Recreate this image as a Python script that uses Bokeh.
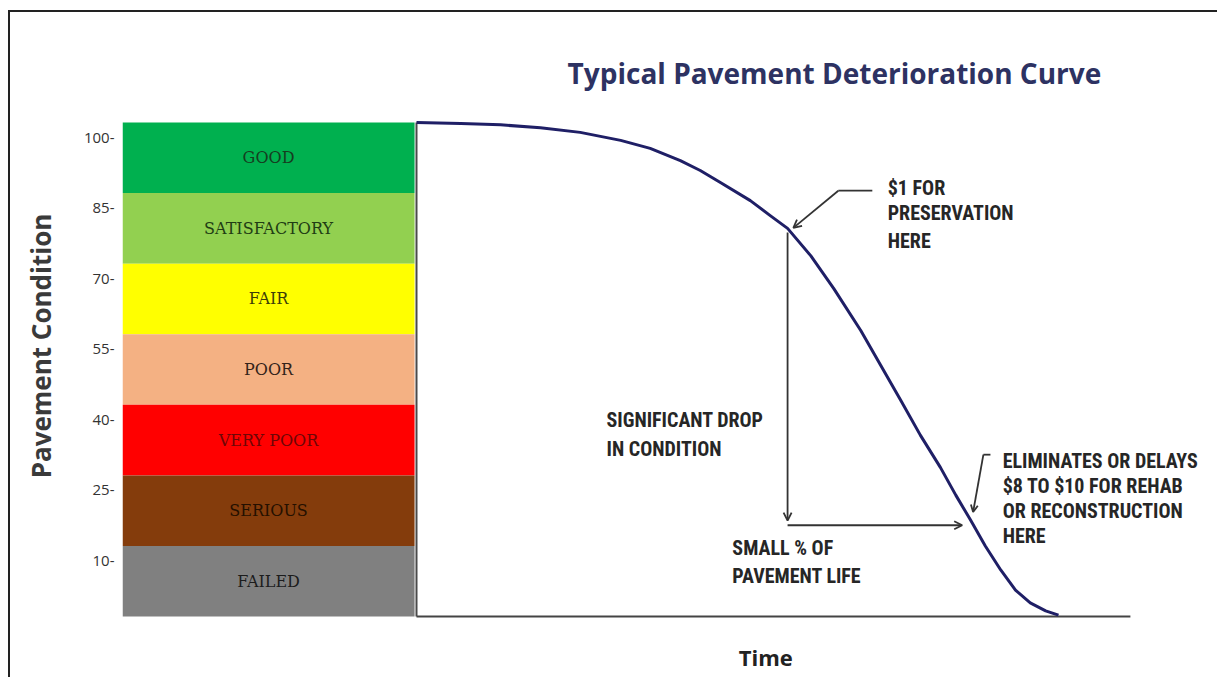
from bokeh.plotting import figure
from bokeh.models import Range1d, FixedTicker, Arrow, OpenHead, ColumnDataSource
from bokeh.embed import file_html
from bokeh.resources import INLINE
from bokeh.core.properties import value

# ---------------- data ----------------
band_names = ["GOOD", "SATISFACTORY", "FAIR", "POOR", "VERY POOR", "SERIOUS", "FAILED"]
band_top = [100, 85, 70, 55, 40, 25, 10]
band_bottom = [85, 70, 55, 40, 25, 10, -5]
band_colors = ["#00b04f", "#92d050", "#ffff00", "#f4b183", "#ff0000", "#843c0c", "#808080"]
band_text_colors = ["#163d1f", "#213d14", "#3d3d08", "#33231a", "#6e0606", "#241000", "#1c1c1c"]

tick_values = [100, 85, 70, 55, 40, 25, 10]
tick_labels = ["100-", "85-", "70-", "55-", "40-", "25-", "10-"]

# deterioration curve: time (0-100 = pavement life) vs condition
curve_time = [0, 6.9, 13.1, 19.3, 25.5, 31.8, 36.4, 41.1, 44.2, 47.4, 52.0, 55.1, 57.8,
              61.4, 65.0, 69.2, 72.3, 75.4, 78.5, 81.6, 84.0, 86.3, 88.6, 91.0, 93.3,
              95.6, 98.0, 100]
curve_condition = [100, 99.8, 99.5, 98.9, 97.9, 96.2, 94.5, 91.9, 89.8, 87.2, 83.4, 80.2, 77.5,
                   71.7, 64.7, 55.8, 48.4, 41.0, 33.5, 26.7, 20.8, 15.5, 10.0, 4.9, 0.6,
                   -2.1, -3.8, -4.7]

title_text = "Typical Pavement Deterioration Curve"
x_label = "Time"
y_label = "Pavement Condition"

note_text = ["$1 FOR", "PRESERVATION", "HERE",
             "SIGNIFICANT DROP", "IN CONDITION",
             "SMALL % OF", "PAVEMENT LIFE",
             "ELIMINATES OR DELAYS", "$8 TO $10 FOR REHAB", "OR RECONSTRUCTION", "HERE"]
note_x = [73.4, 73.4, 73.4, 29.6, 29.6, 49.2, 49.2, 91.3, 91.3, 91.3, 91.3]
note_y = [86.0, 80.7, 74.9, 36.7, 30.7, 9.5, 3.7, 28.1, 22.8, 17.5, 12.1]

# ---------------- layout (pixel geometry) ----------------
PX_T0 = 416.0        # page x of time 0
PX_PER_T = 6.42      # px per time unit
PX_C100 = 122.0      # page y of condition 100
PX_PER_C = 4.705     # px per condition unit
PAGE_L, PAGE_T = 10, 12   # page position of the canvas (after margin + border)
W, H = 1209, 667
FRAME_L = 122

x0 = (FRAME_L - PX_T0) / PX_PER_T
x1 = (PAGE_L + W - PX_T0) / PX_PER_T
y1 = 100 + (PX_C100 - PAGE_T) / PX_PER_C
y0 = 100 - (PAGE_T + H - PX_C100) / PX_PER_C

p = figure(width=W, height=H, x_range=Range1d(x0, x1), y_range=Range1d(y0, y1),
           output_backend="svg", toolbar_location=None,
           min_border_left=FRAME_L - PAGE_L, min_border_right=0,
           min_border_top=0, min_border_bottom=0)
p.styles = {"margin-left": "8px", "margin-top": "10px",
            "border-left": "2px solid #222", "border-top": "2px solid #222"}
p.xaxis.visible = False
p.grid.visible = False
p.outline_line_color = None

ax = p.yaxis[0]
off = 3.2
ticks = [round(v - off, 2) for v in tick_values]
ax.ticker = FixedTicker(ticks=ticks)
ax.major_label_overrides = {t: lab for t, lab in zip(ticks, tick_labels)}
ax.major_tick_line_color = None
ax.minor_tick_line_color = None
ax.axis_line_color = None
ax.major_label_standoff = 2
ax.major_label_text_font = "Open Sans"
ax.major_label_text_font_size = "15px"
ax.major_label_text_color = "#333333"
ax.axis_label = y_label
ax.axis_label_text_font = "Open Sans"
ax.axis_label_text_font_style = "bold"
ax.axis_label_text_font_size = "26px"
ax.axis_label_text_color = "#3a3a3a"
ax.axis_label_standoff = 22

# bands
band_src = ColumnDataSource(dict(
    name=band_names, top=band_top, bottom=band_bottom, color=band_colors,
    tcolor=band_text_colors,
    mid=[(a + b) / 2 for a, b in zip(band_top, band_bottom)],
))
p.quad(left=x0, right=-0.3, top="top", bottom="bottom", fill_color="color",
       line_color=None, source=band_src)
p.text(x=(x0 - 0.3) / 2, y="mid", text="name", source=band_src,
       text_align="center", text_baseline="middle",
       text_font=value("DejaVu Serif"), text_font_size="16px", text_color="tcolor")

# axes lines of the curve area
p.line(x=[0, 0], y=[-5, 100], line_color="#4a4a4a", line_width=2)
p.line(x=[0, 111.2], y=[-5, -5], line_color="#444444", line_width=2)

# curve
p.line(x=curve_time, y=curve_condition, line_color="#1f1f66", line_width=3,
       line_join="round")

# arrows
acol = "#333333"
p.add_layout(Arrow(x_start=57.8, y_start=76.6, x_end=57.8, y_end=15.4,
                   line_color=acol, line_width=1.8,
                   end=OpenHead(size=8, line_color=acol, line_width=1.8)))
p.add_layout(Arrow(x_start=57.8, y_start=14.4, x_end=85.0, y_end=14.4,
                   line_color=acol, line_width=1.8,
                   end=OpenHead(size=8, line_color=acol, line_width=1.8)))
p.line(x=[71.0, 65.7], y=[85.5, 85.5], line_color=acol, line_width=1.8)
p.add_layout(Arrow(x_start=65.7, y_start=85.5, x_end=58.7, y_end=77.6,
                   line_color=acol, line_width=1.8,
                   end=OpenHead(size=8, line_color=acol, line_width=1.8)))
p.line(x=[89.4, 88.3], y=[29.4, 29.4], line_color=acol, line_width=1.8)
p.add_layout(Arrow(x_start=88.3, y_start=29.4, x_end=86.7, y_end=17.2,
                   line_color=acol, line_width=1.8,
                   end=OpenHead(size=7, line_color=acol, line_width=1.8)))

# annotation texts
p.text(x=note_x, y=note_y, text=note_text, text_align="left", text_baseline="middle",
       text_font=value("Roboto Condensed, DejaVu Sans Condensed, Roboto, sans-serif"),
       text_font_style="bold", text_font_size="20px", text_color="#262626")

# title and x label
p.text(x=[65.1], y=[110.6], text=[title_text], text_align="center", text_baseline="middle",
       text_font=value("Open Sans"), text_font_style="bold", text_font_size="28px",
       text_color="#2d3262")
p.text(x=[54.4], y=[-13.7], text=[x_label], text_align="center", text_baseline="middle",
       text_font=value("Open Sans"), text_font_style="bold", text_font_size="22px",
       text_color="#222222")

open("out.html", "w").write(file_html(p, INLINE))
